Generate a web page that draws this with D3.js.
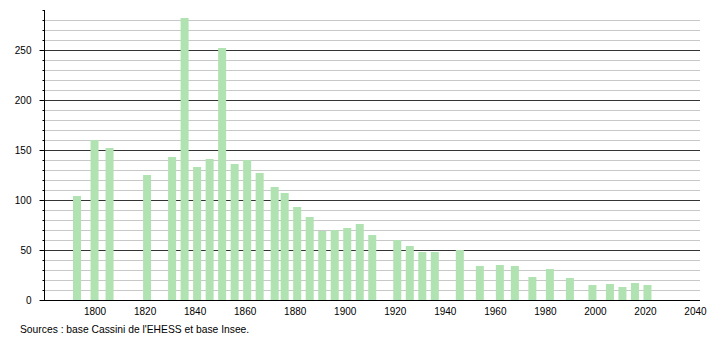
<!DOCTYPE html>
<html>
<head>
<meta charset="utf-8">
<script src="https://cdn.jsdelivr.net/npm/d3@7"></script>
<style>
  body { margin: 0; background: #fff; }
  text { font-family: "Liberation Sans", Arial, sans-serif; }
</style>
</head>
<body>
<div id="chart"></div>
<script>
// census years and population
const years = [1793, 1800, 1806, 1821, 1831, 1836, 1841, 1846, 1851, 1856, 1861, 1866,
  1872, 1876, 1881, 1886, 1891, 1896, 1901, 1906, 1911, 1921, 1926, 1931, 1936, 1946,
  1954, 1962, 1968, 1975, 1982, 1990, 1999, 2006, 2011, 2016, 2021];
const population = [104, 160, 152, 125, 143, 282, 133, 141, 252, 136, 140, 127,
  113, 107, 93, 83, 69, 70, 72, 76, 65, 60, 54, 48, 48, 50,
  34, 35, 34, 23, 31, 22, 15, 16, 13, 17, 15];
const xTicks = [1800, 1820, 1840, 1860, 1880, 1900, 1920, 1940, 1960, 1980, 2000, 2020, 2040];
const yTicks = [0, 50, 100, 150, 200, 250];
const source = "Sources : base Cassini de l'EHESS et base Insee.";

const width = 710, height = 340;
const svg = d3.select("#chart")
    .append("svg")
    .attr("width", width)
    .attr("height", height);

const x = d3.scaleLinear().domain([1780, 2042]).range([44.5, 700]);
const y = d3.scaleLinear().domain([0, 290]).range([300, 10]);

// minor grid every 10
const minor = d3.range(10, 290, 10).filter(v => v % 50 !== 0);
svg.append("g")
    .selectAll("line")
    .data(minor)
    .join("line")
    .attr("x1", 44).attr("x2", 700)
    .attr("y1", d => Math.round(y(d)) + 0.5)
    .attr("y2", d => Math.round(y(d)) + 0.5)
    .attr("stroke", "#c8c8c8")
    .attr("stroke-width", 1);

// major grid
svg.append("g")
    .selectAll("line")
    .data(yTicks.filter(v => v > 0))
    .join("line")
    .attr("x1", 44).attr("x2", 700)
    .attr("y1", d => Math.round(y(d)) + 0.5)
    .attr("y2", d => Math.round(y(d)) + 0.5)
    .attr("stroke", "#333")
    .attr("stroke-width", 1);

// bars
const data = years.map((yr, i) => ({ year: yr, pop: population[i] }));
svg.append("g")
    .selectAll("rect")
    .data(data)
    .join("rect")
    .attr("x", d => x(d.year) - 4)
    .attr("width", 8)
    .attr("y", d => y(d.pop))
    .attr("height", d => y(0) - y(d.pop))
    .attr("fill", "#b1e2b1");

// y axis
const yAxis = svg.append("g")
    .attr("transform", "translate(44.5,0)")
    .call(d3.axisLeft(y).tickValues(d3.range(0, 291, 10)).tickSize(2).tickFormat(""));
yAxis.select(".domain").attr("stroke", "#000").attr("d", "M0," + y(290) + "V" + y(0));
yAxis.selectAll(".tick line").attr("stroke", "#000");

svg.append("g")
    .attr("transform", "translate(44.5,0)")
    .call(d3.axisLeft(y).tickValues(yTicks).tickSize(5).tickPadding(8))
    .call(g => g.select(".domain").remove())
    .call(g => g.selectAll(".tick line").attr("stroke", "#000"))
    .call(g => g.selectAll("text").attr("fill", "#000").style("font-size", "10px")
        .attr("font-family", "Liberation Sans, Arial, sans-serif"));

// x axis
svg.append("g")
    .attr("transform", "translate(0,300.5)")
    .call(d3.axisBottom(x).tickValues(xTicks).tickSize(0).tickPadding(7).tickFormat(d3.format("d")))
    .call(g => g.select(".domain").attr("stroke", "#000").attr("d", "M44,0H700"))
    .call(g => g.selectAll("text").attr("fill", "#000").style("font-size", "10px")
        .attr("font-family", "Liberation Sans, Arial, sans-serif"));

svg.append("text")
    .attr("x", 20)
    .attr("y", 333)
    .style("font-size", "10.3px")
    .attr("fill", "#000")
    .text(source);
</script>
</body>
</html>
